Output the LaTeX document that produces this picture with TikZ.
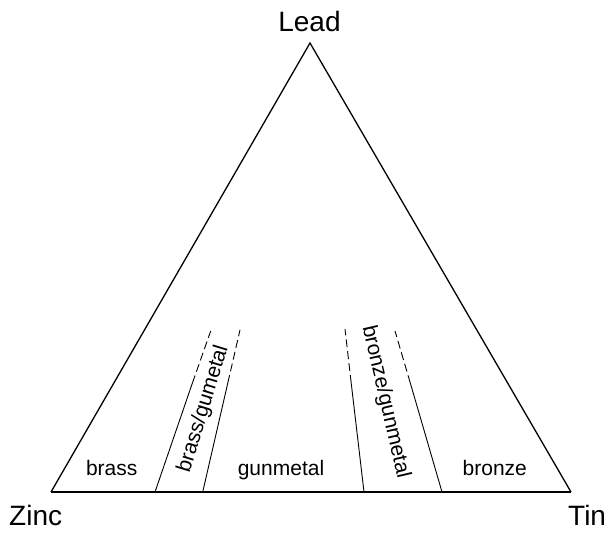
\documentclass[tikz,border=0pt]{standalone}
\usepackage{fontspec}
\setmainfont{Liberation Sans}
\begin{document}
\begin{tikzpicture}[x=1pt,y=-1pt,
  corner/.style={font=\fontsize{28}{30}\selectfont, inner sep=0pt, anchor=base},
  region/.style={font=\fontsize{21}{23}\selectfont, inner sep=0pt, anchor=base},
  bandlabel/.style={font=\fontsize{21}{23}\selectfont, inner sep=0pt},
  side/.style={line width=1.3pt},
  basel/.style={line width=1.8pt},
  divider/.style={line width=0.9pt},
  dashdiv/.style={line width=0.9pt, dash pattern=on 8pt off 4pt}]
\useasboundingbox (0,0) rectangle (610,533);
% triangle vertices
\coordinate (A) at (310,43);
\coordinate (Z) at (51,492);
\coordinate (T) at (571,492);
\draw[side] (Z) -- (A) -- (T);
\draw[basel] (Z) -- (T);
% corner labels
\node[corner] (lead) at (309.5,31.5) {Lead};
\node[corner, anchor=base west] (zinc) at (9,525) {Zinc};
\node[corner, anchor=base west] (tin) at (568,525) {Tin};
% divider lines: bottom, transition, top
\coordinate (b1) at (155,492);  \coordinate (m1) at (192.4,383); \coordinate (t1) at (210.7,331);
\coordinate (b2) at (202.7,492);\coordinate (m2) at (227.8,383); \coordinate (t2) at (240,330);
\coordinate (b3) at (364,492);  \coordinate (m3) at (351.2,383); \coordinate (t3) at (345,329);
\coordinate (b4) at (442,492);  \coordinate (m4) at (410.3,383); \coordinate (t4) at (395,331);
\draw[divider] (b1) -- (m1);
\draw[dashdiv] (m1) -- (t1);
\draw[divider] (b2) -- (m2);
\draw[dashdiv] (m2) -- (t2);
\draw[divider] (b3) -- (m3);
\draw[dashdiv] (m3) -- (t3);
\draw[divider] (b4) -- (m4);
\draw[dashdiv] (m4) -- (t4);
% region labels
\node[region] (brass) at (111.7,475) {brass};
\node[region] (gunmetal) at (281,475) {gunmetal};
\node[region] (bronze) at (494.8,475) {bronze};
\node[bandlabel, rotate=73] (bg) at (203.5,409) {brass/gumetal};
\node[bandlabel, rotate=-77] (bzg) at (385.5,402) {bronze/gunmetal};
\end{tikzpicture}
\end{document}
